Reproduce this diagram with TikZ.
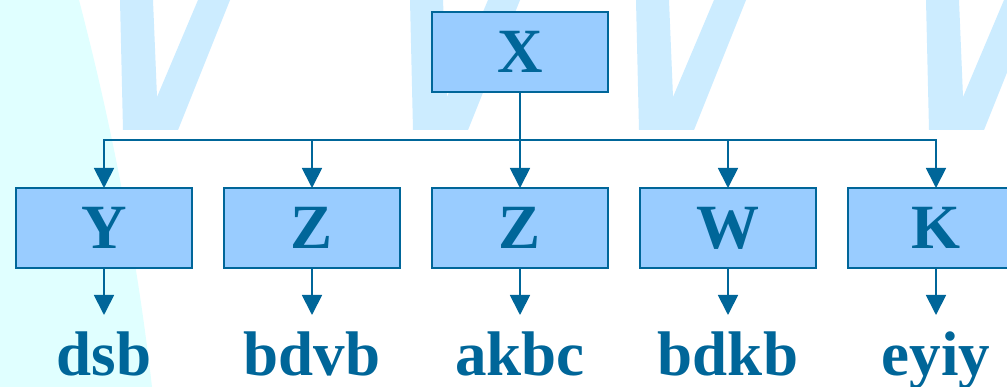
\documentclass[tikz,border=0pt]{standalone}
\usepackage{fontspec}
\setmainfont{Liberation Serif}
\usetikzlibrary{positioning,arrows.meta}
\definecolor{darkblue}{HTML}{006699}
\definecolor{boxblue}{HTML}{99CCFF}
\definecolor{markblue}{HTML}{CCECFF}
\definecolor{paleblue}{HTML}{E0FFFF}
\tikzset{
  txt/.style={text=darkblue, font=\bfseries\fontsize{63}{63}\selectfont},
  box/.style={txt, draw=darkblue, fill=boxblue, line width=1.6pt, minimum width=176pt, minimum height=80pt, inner sep=0pt, outer sep=0pt},
  lbl/.style={txt, inner sep=0pt, outer sep=0pt, text height=61pt, text depth=0pt},
  link/.style={draw=darkblue, line width=1.8pt, -{Triangle[width=20pt,length=20pt]}}
}
\begin{document}
\begin{tikzpicture}[x=1pt,y=-1pt]
        \useasboundingbox (0,0) rectangle (1007,387);
        \clip (0,0) rectangle (1007,387);
        \fill[white] (0,0) rectangle (1007,387);
        \fill[paleblue] (0,0) -- (79,0) .. controls (113,130) and (137,257) .. (152,387) -- (0,387) -- cycle;
        \foreach \dx in {0,290,516,806}
            \fill[markblue, xshift=\dx] (120,0) -- (123,130) -- (178,130) -- (230,0) -- (198,0) -- (157,97) -- (153,0) -- cycle;
        \node[box] (x) at (520,52) {X};
        \node[box, below=96pt of x] (z2) {Z};
        \node[box, left=32pt of z2] (z1) {Z};
        \node[box, left=32pt of z1] (y) {Y};
        \node[box, right=32pt of z2] (w) {W};
        \node[box, right=32pt of w] (k) {K};
        \coordinate[below=48pt of x] (bus);
        \draw[link] (x.south) -- (z2.north);
        \foreach \n in {y,z1,w,k}
            \draw[link] (bus) -| (\n.north);
        \foreach \n/\t in {y/dsb, z1/bdvb, z2/akbc, w/bdkb, k/eyiy} {
            \node[lbl, below=47pt of \n] (l\n) {\t};
            \draw[link] (\n.south) -- (l\n.north);
        }
    \end{tikzpicture}
\end{document}
